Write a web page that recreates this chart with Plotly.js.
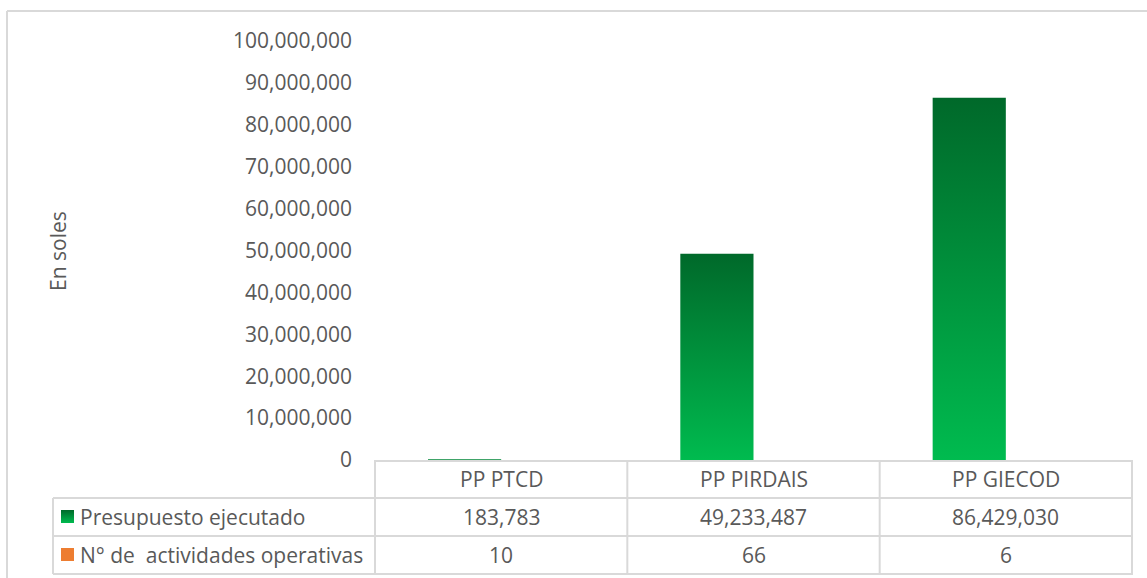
<!DOCTYPE html>
<html>
<head>
<meta charset="utf-8">
<script src="https://cdn.plot.ly/plotly-3.0.1.min.js"></script>
<style>
html,body{margin:0;padding:0;background:#fff;}
#chart{width:1147px;height:578px;}
</style>
</head>
<body>
<div id="chart"></div>
<script>
// ---- data ----
const categories = ["PP PTCD", "PP PIRDAIS", "PP GIECOD"];
const seriesNames = ["Presupuesto ejecutado", "N° de  actividades operativas"];
const presupuesto = [183783, 49233487, 86429030];
const actividades = [10, 66, 6];
const yTickVals = [0, 10000000, 20000000, 30000000, 40000000, 50000000, 60000000, 70000000, 80000000, 90000000, 100000000];
const yAxisTitle = "En soles";

// ---- geometry helpers (pixel -> paper) ----
const W = 1147, H = 578;
const L = 374, R = 1133, T = 41, B = 460;
const px = v => (v - L) / (R - L);
const py = v => (B - v) / (B - T);

const FONT = '"Open Sans", sans-serif';
const TXT = '#595959';
const GRID = '#d9d9d9';
const fmt = v => v.toLocaleString('en-US');

const traces = [
  {type:'bar', x:categories, y:presupuesto, name:seriesNames[0],
   marker:{color:'#00A046', line:{width:0}}, hoverinfo:'x+y'},
  {type:'bar', x:categories, y:actividades, name:seriesNames[1],
   marker:{color:'#ED7D31', line:{width:0}}, hoverinfo:'x+y'}
];

const shapes = [];
const annotations = [];
const line = (x0,y0,x1,y1,xref) => shapes.push({type:'line', xref:xref||'paper', yref:'paper',
  x0:x0, y0:y0, x1:x1, y1:y1, line:{color:GRID, width:2}, layer:'above'});

// outer chart border
line(px(7), py(11), px(1147), py(11));
line(px(7), py(11), px(7), py(578));

// data table
const rowY = [461, 498, 536, 574];
const tableLeft = 53;
line(px(L), py(rowY[0]), px(R), py(rowY[0]));
for (let i = 1; i < rowY.length; i++) line(px(tableLeft), py(rowY[i]), px(R), py(rowY[i]));
line(px(tableLeft), py(rowY[1]), px(tableLeft), py(rowY[3]));
for (let i = 0; i <= categories.length; i++) {
  shapes.push({type:'line', xref:'x', yref:'paper', x0:i-0.5, x1:i-0.5, y0:py(rowY[0]), y1:py(rowY[3]),
    line:{color:GRID, width:2}, layer:'above'});
}
// legend keys
shapes.push({type:'rect', xref:'paper', yref:'paper', x0:px(61), x1:px(74), y0:py(510), y1:py(523),
  fillcolor:'rgb(1,2,3)', line:{width:0}});
shapes.push({type:'rect', xref:'paper', yref:'paper', x0:px(61), x1:px(74), y0:py(548), y1:py(561),
  fillcolor:'#ED7D31', line:{width:0}});

const rowMid = i => py((rowY[i] + rowY[i+1]) / 2);
const font = {family:FONT, size:21, color:TXT};
categories.forEach((c, i) => {
  annotations.push({xref:'x', yref:'paper', x:i, y:rowMid(0), text:c, showarrow:false, font:font, xanchor:'center', yanchor:'middle'});
  annotations.push({xref:'x', yref:'paper', x:i, y:rowMid(1), text:fmt(presupuesto[i]), showarrow:false, font:font, xanchor:'center', yanchor:'middle'});
  annotations.push({xref:'x', yref:'paper', x:i, y:rowMid(2), text:fmt(actividades[i]), showarrow:false, font:font, xanchor:'center', yanchor:'middle'});
});
annotations.push({xref:'paper', yref:'paper', x:px(78), y:rowMid(1), text:seriesNames[0], showarrow:false, font:font, xanchor:'left', yanchor:'middle'});
annotations.push({xref:'paper', yref:'paper', x:px(78), y:rowMid(2), text:seriesNames[1], showarrow:false, font:font, xanchor:'left', yanchor:'middle'});
annotations.push({xref:'paper', yref:'paper', x:px(58), y:py(251), text:yAxisTitle, textangle:-90, showarrow:false,
  font:{family:FONT, size:21, color:TXT}, xanchor:'center', yanchor:'middle'});

const layout = {
  width:W, height:H,
  margin:{l:L, r:W-R, t:T, b:H-B, pad:0},
  paper_bgcolor:'#fff', plot_bgcolor:'#fff',
  showlegend:false,
  barmode:'group', bargap:0.42, bargroupgap:0,
  font:{family:FONT, color:TXT},
  xaxis:{showticklabels:false, showgrid:false, zeroline:false, showline:false, ticks:'', fixedrange:true},
  yaxis:{range:[0,100000000], tickvals:yTickVals, tickformat:',d', showgrid:false, zeroline:false, showline:false,
    ticks:'', ticklabelstandoff:21, tickfont:{family:FONT, size:21, color:TXT}, fixedrange:true},
  shapes:shapes, annotations:annotations
};

Plotly.newPlot('chart', traces, layout, {displayModeBar:false, staticPlot:true}).then(gd => {
  const svg = gd.querySelector('svg.main-svg');
  const NS = 'http://www.w3.org/2000/svg';
  let defs = svg.querySelector('defs');
  if (!defs) { defs = document.createElementNS(NS,'defs'); svg.insertBefore(defs, svg.firstChild); }
  const g = document.createElementNS(NS,'linearGradient');
  g.setAttribute('id','greenGrad'); g.setAttribute('x1','0'); g.setAttribute('y1','0'); g.setAttribute('x2','0'); g.setAttribute('y2','1');
  [['0','#00692A'],['1','#00BB4F']].forEach(([o,c]) => {
    const s = document.createElementNS(NS,'stop'); s.setAttribute('offset',o); s.setAttribute('stop-color',c); g.appendChild(s);
  });
  defs.appendChild(g);
  const tr = gd.querySelectorAll('.barlayer .trace')[0];
  if (tr) tr.querySelectorAll('path').forEach(p => { p.style.fill = 'url(#greenGrad)'; });
  gd.querySelectorAll('.shapelayer path').forEach(p => {
    if ((p.style.fill || '').replace(/\s/g,'') === 'rgb(1,2,3)') p.style.fill = 'url(#greenGrad)';
  });
});
</script>
</body>
</html>
